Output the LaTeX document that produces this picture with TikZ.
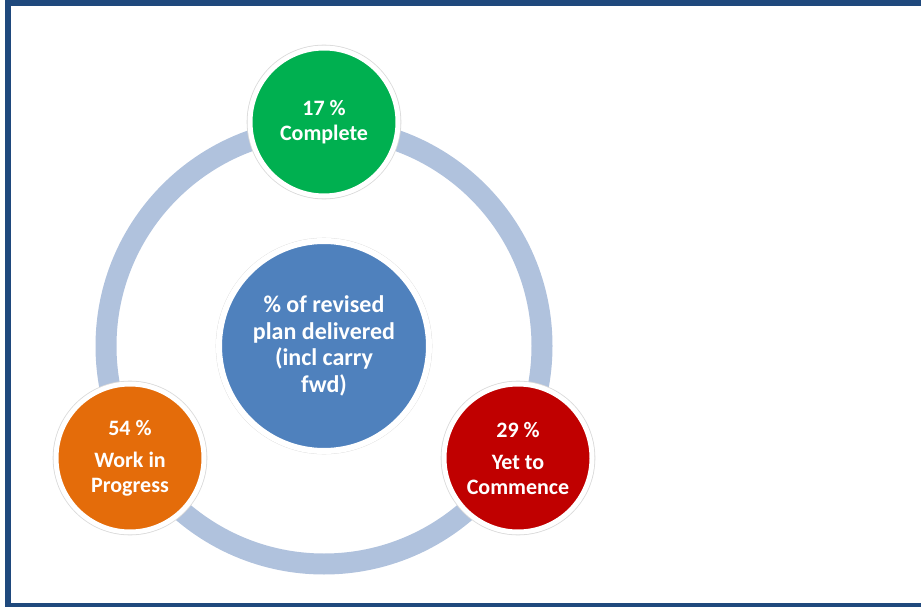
\documentclass[tikz,border=0pt]{standalone}
\usepackage{fontspec}
\setmainfont{Carlito}
\definecolor{frameblue}{HTML}{1F497D}
\definecolor{ringblue}{HTML}{B0C2DD}
\definecolor{hubblue}{HTML}{4F81BD}
\definecolor{donegreen}{HTML}{00B050}
\definecolor{wiporange}{HTML}{E46C0A}
\definecolor{todored}{HTML}{C00000}
\begin{document}
\begin{tikzpicture}[x=1pt,y=-1pt,
  disc/.style={circle, inner sep=0pt, text=white, align=center,
    draw=white, preaction={draw=black!15, line width=6.6pt}},
  hub/.style={disc, fill=hubblue, line width=6pt, minimum size=210pt,
    font=\bfseries\fontsize{24}{26.5}\selectfont},
  satellite/.style={disc, fill=#1, line width=5pt, minimum size=148pt,
    font=\bfseries\fontsize{22}{24.5}\selectfont}]
  \useasboundingbox (0,0) rectangle (921,607);
  \clip (0,0) rectangle (921,607);
  % outer frame, open on the right
  \draw[frameblue, line width=6pt] (940,606) -- (8,606) -- (8,3.5) -- (940,3.5);
  % connecting ring
  \coordinate (centre) at (324,346);
  \draw[ringblue, line width=21pt] (centre) circle[radius=218];
  % central hub
  \node[hub] (plan) at (centre) {\% of revised\\plan delivered\\(incl carry\\fwd)};
  % status circles
  \node[satellite=donegreen] (complete) at (324,122) {17 \%\\Complete};
  \node[satellite=wiporange] (progress) at (130,458) {54 \%\\[8pt]Work in\\Progress};
  \node[satellite=todored] (commence) at (518,458) {29 \%\\[8pt]Yet to\\Commence};
\end{tikzpicture}
\end{document}
